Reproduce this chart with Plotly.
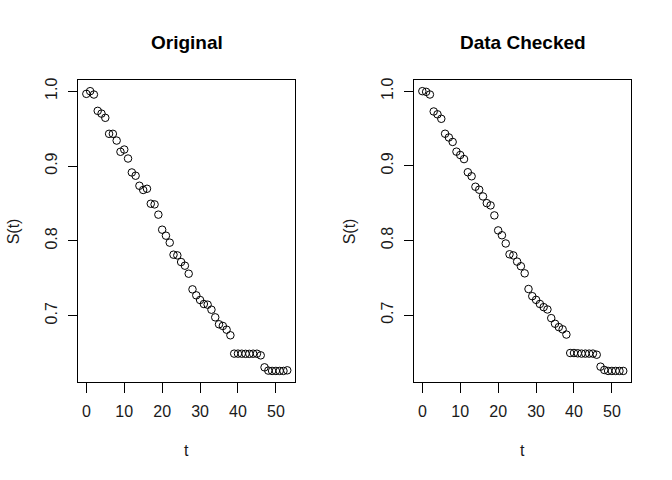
import plotly.graph_objects as go

t = list(range(54))
s_original = [0.9964, 1.0, 0.9955, 0.9737, 0.970, 0.9644, 0.943, 0.943, 0.934, 0.919,
              0.922, 0.910, 0.8914, 0.887, 0.8736, 0.868, 0.8696, 0.8496, 0.8487, 0.835,
              0.8149, 0.8069, 0.7976, 0.7815, 0.7806, 0.7717, 0.7668, 0.7561, 0.7352, 0.7272,
              0.721, 0.7156, 0.7147, 0.708, 0.6978, 0.6885, 0.6863, 0.6813, 0.6738, 0.6493,
              0.6493, 0.6492, 0.649, 0.649, 0.6492, 0.6492, 0.647, 0.631, 0.6266, 0.6262,
              0.6262, 0.6262, 0.6262, 0.627]
s_checked = [1.0, 0.9991, 0.9955, 0.9728, 0.969, 0.963, 0.943, 0.938, 0.932, 0.919,
             0.9145, 0.909, 0.8914, 0.886, 0.872, 0.868, 0.859, 0.850, 0.847, 0.8336,
             0.8135, 0.807, 0.796, 0.7815, 0.780, 0.7717, 0.7655, 0.756, 0.735, 0.7254,
             0.7205, 0.715, 0.7107, 0.7076, 0.696, 0.6885, 0.684, 0.681, 0.674, 0.6493,
             0.6493, 0.6489, 0.6485, 0.6485, 0.6485, 0.6485, 0.647, 0.631, 0.6266, 0.6253,
             0.6253, 0.6253, 0.6253, 0.6253]
titles = ["Original", "Data Checked"]
x_ticks = [0, 10, 20, 30, 40, 50]
y_ticks = [0.7, 0.8, 0.9, 1.0]
y_tick_labels = ["0.7", "0.8", "0.9", "1.0"]
x_label = "t"
y_label = "S(t)"

W, H = 672, 480
FONT = "Liberation Sans, Arial, sans-serif"
TXT = "#1a1a1a"

def padded(vals):
    lo, hi = min(vals), max(vals)
    p = 0.04 * (hi - lo)
    return [lo - p, hi + p]

panels = [(78.3, 295.3), (414.3, 631.3)]
top_px, bot_px = 78.3, 381.7

fig = go.Figure()
annotations = []
for i, (series, title) in enumerate(zip([s_original, s_checked], titles)):
    n = "" if i == 0 else str(i + 1)
    fig.add_trace(go.Scatter(
        x=t, y=series, mode="markers", xaxis="x" + n, yaxis="y" + n,
        marker=dict(symbol="circle-open", size=7.5, color="black", line=dict(width=1, color="black")),
        showlegend=False, hoverinfo="x+y"))
    l, r = panels[i]
    dom_x = [l / W, r / W]
    dom_y = [1 - bot_px / H, 1 - top_px / H]
    common = dict(showline=True, mirror=True, linecolor="black", linewidth=1,
                  ticks="outside", ticklen=9.6, tickwidth=1, tickcolor="black",
                  showgrid=False, zeroline=False,
                  tickfont=dict(family=FONT, size=16, color=TXT))
    fig.update_layout(**{
        "xaxis" + n: dict(domain=dom_x, range=padded(t), tickvals=x_ticks,
                          anchor="y" + n, ticklabelstandoff=5, **common),
        "yaxis" + n: dict(domain=dom_y, range=padded(series), tickvals=y_ticks,
                          ticktext=y_tick_labels, tickangle=-90,
                          anchor="x" + n, ticklabelstandoff=4, **common),
    })
    cx = (l + r) / 2
    annotations.append(dict(text="<b>%s</b>" % title, x=cx / W, y=1 - 40.7 / H,
                            xref="paper", yref="paper", showarrow=False,
                            xanchor="center", yanchor="middle",
                            font=dict(family=FONT, size=19, color="black")))
    annotations.append(dict(text=x_label, x=cx / W, y=1 - 450 / H,
                            xref="paper", yref="paper", showarrow=False,
                            xanchor="center", yanchor="middle",
                            font=dict(family=FONT, size=16, color=TXT)))
    annotations.append(dict(text=y_label, x=(l - 65) / W, y=1 - (top_px + bot_px) / 2 / H,
                            xref="paper", yref="paper", showarrow=False, textangle=-90,
                            xanchor="center", yanchor="middle",
                            font=dict(family=FONT, size=16, color=TXT)))

fig.update_layout(width=W, height=H, margin=dict(l=0, r=0, t=0, b=0),
                  paper_bgcolor="white", plot_bgcolor="white",
                  annotations=annotations)
fig.write_html("out.html", config={"displayModeBar": False},
               post_script="document.body.style.margin='0';")
